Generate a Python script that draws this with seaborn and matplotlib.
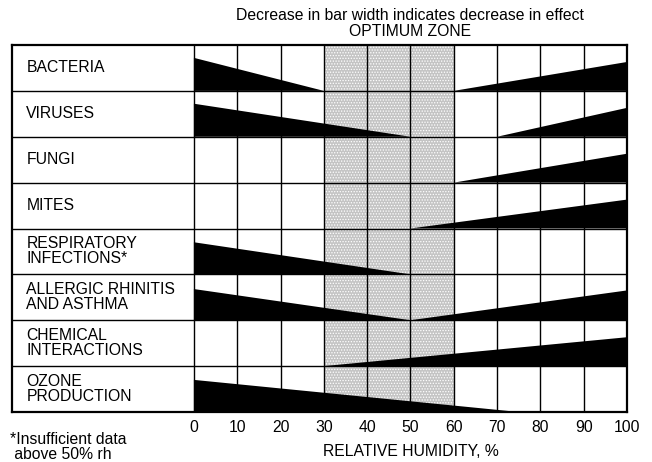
import matplotlib
matplotlib.use("Agg")
import matplotlib.pyplot as plt
import seaborn as sns

# rows, top to bottom
categories = ["BACTERIA", "VIRUSES", "FUNGI", "MITES",
              "RESPIRATORY\nINFECTIONS*", "ALLERGIC RHINITIS\nAND ASTHMA",
              "CHEMICAL\nINTERACTIONS", "OZONE\nPRODUCTION"]

# wedges: (row, wide end rh %, narrow end rh %, width at wide end as share of row)
wedge_row = [0, 0, 1, 1, 2, 3, 4, 5, 5, 6, 7]
wedge_wide = [0, 100, 0, 100, 100, 100, 0, 0, 100, 100, 0]
wedge_tip = [30, 60, 50, 70, 60, 50, 50, 50, 50, 30, 75]
wedge_size = [0.72, 0.63, 0.72, 0.63, 0.63, 0.63, 0.70, 0.68, 0.65, 0.63, 0.70]

zone_lo, zone_hi = 30, 60
rh_ticks = list(range(0, 101, 10))

sns.set_theme(style="white")
plt.rcParams["font.family"] = ["Liberation Sans", "DejaVu Sans"]
plt.rcParams["text.color"] = "black"
plt.rcParams["xtick.color"] = "black"
plt.rcParams["hatch.color"] = "#6e6e6e"
plt.rcParams["hatch.linewidth"] = 0.6
fs = 11.3

fig = plt.figure(figsize=(6.52, 4.62), dpi=100)
ax = fig.add_axes([12 / 652, 1 - 412 / 462, 615 / 652, 367 / 462])
label_x = -42
ax.set_xlim(label_x, 100)
ax.set_ylim(len(categories), 0)

ax.axvspan(zone_lo, zone_hi, facecolor="#c4c4c4", hatch="......", lw=0, zorder=0)

for r, x0, x1, h in zip(wedge_row, wedge_wide, wedge_tip, wedge_size):
    b = r + 1
    ax.fill([x0, x0, x1], [b, b - h, b], color="black", lw=0, zorder=2)

for x in rh_ticks:
    ax.axvline(x, color="black", lw=1.0, zorder=3)
for i in range(1, len(categories)):
    ax.axhline(i, color="black", lw=1.0, zorder=3)

for i, name in enumerate(categories):
    ax.text(label_x + 3.3, i + 0.5, name, va="center", ha="left",
            fontsize=fs, linespacing=1.0)

for s in ax.spines.values():
    s.set_visible(True)
    s.set_color("black")
    s.set_linewidth(1.6)
ax.set_yticks([])
ax.set_xticks(rh_ticks)
ax.set_xticklabels([str(t) for t in rh_ticks], fontsize=fs)
ax.tick_params(axis="x", length=0, pad=6)

ax.text(50, len(categories) + 0.86, "RELATIVE HUMIDITY, %", ha="center",
        va="center", fontsize=fs)
fig.text(410 / 652, 1 - 16 / 462, "Decrease in bar width indicates decrease in effect",
         ha="center", va="center", fontsize=fs)
fig.text(410 / 652, 1 - 31 / 462, "OPTIMUM ZONE", ha="center", va="center",
         fontsize=fs)
fig.text(10 / 652, 1 - 447 / 462, "*Insufficient data\n above 50% rh", ha="left",
         va="center", fontsize=fs, linespacing=1.05)

fig.savefig("out.png", dpi=100)
